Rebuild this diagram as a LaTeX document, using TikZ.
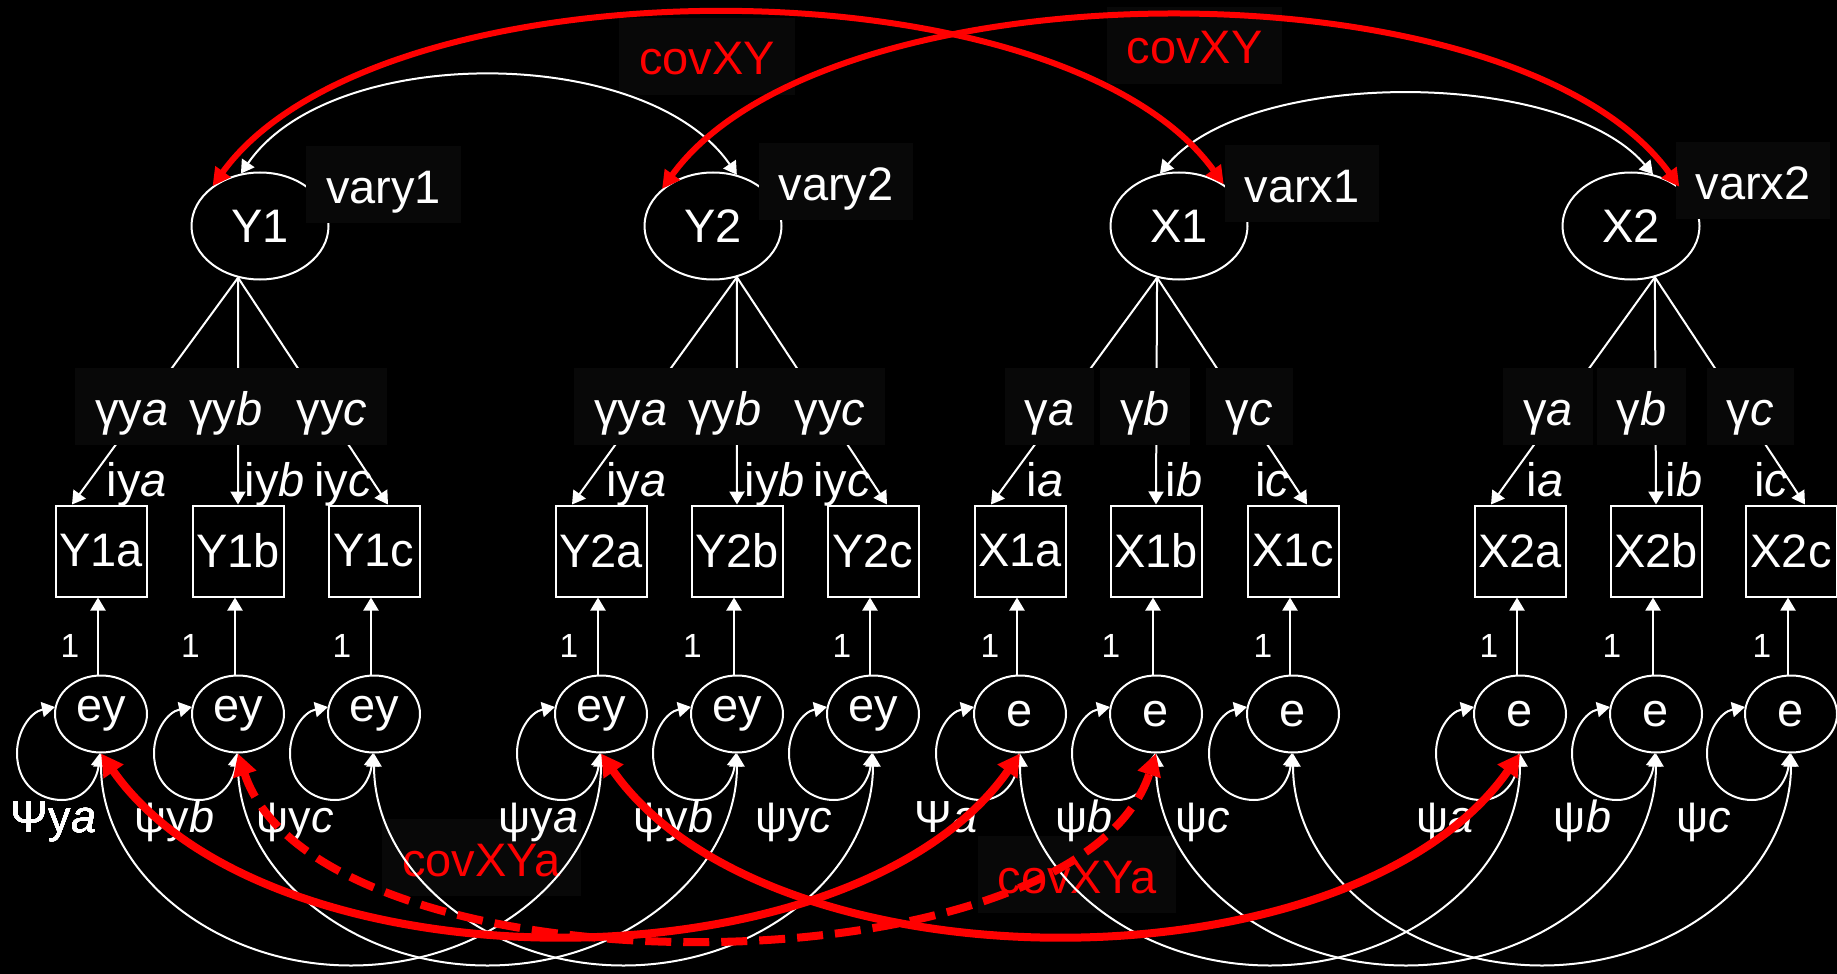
\documentclass[tikz,border=0pt]{standalone}
\usepackage{fontspec}
\setmainfont{Liberation Sans}
\usetikzlibrary{shapes.geometric,arrows.meta,calc}
\definecolor{tagbg}{RGB}{8,8,8}
\definecolor{covred}{RGB}{255,0,0}

% variance loop under a residual ellipse (coordinates relative to its centre)
\newcommand\resloop[1]{%
  \draw[wcov, shift={(#1.center)}] (-1,39) .. controls (-4,66) and (-16,86) .. (-39,86)
    .. controls (-61,86) and (-84,71) .. (-84,39)
    .. controls (-84,18) and (-71,-2) .. (-46,-7);}
% residual covariance: half ellipse below two residuals
\newcommand\botarc[2]{%
  \draw[wcov] (#1.south) .. controls +(0,117) and +(-138,0)
    .. ($(#1.south)!0.5!(#2.south)+(0,212)$)
    .. controls +(138,0) and +(0,117) .. (#2.south);}

\begin{document}
\begin{tikzpicture}[x=0.5pt,y=-0.5pt,
  every node/.style={text=white, font=\fontsize{23.5}{28}\selectfont},
  lat/.style={ellipse, draw=white, line width=1pt, fill=black,
    minimum width=68.5pt, minimum height=53.5pt, inner sep=0pt},
  ind/.style={rectangle, draw=white, line width=1pt, fill=black,
    minimum width=45.5pt, minimum height=45.5pt, inner sep=0pt},
  res/.style={ellipse, draw=white, line width=1pt, fill=black,
    minimum width=46pt, minimum height=38.5pt, inner sep=0pt},
  tag/.style={fill=tagbg, anchor=base, inner xsep=10pt, inner ysep=4pt,
    text height=24.5pt, text depth=6pt},
  redtag/.style={tag, text=covred},
  plain/.style={anchor=base, inner sep=0pt},
  psi/.style={plain, font=\fontsize{22.5}{27}\selectfont},
  one/.style={anchor=base, inner sep=0pt, font=\fontsize{16.75}{20}\selectfont},
  wline/.style={draw=white, line width=1pt},
  warrow/.style={wline, -{Triangle[length=6.5pt,width=7.5pt]}},
  wcov/.style={wline, {Triangle[length=6.5pt,width=7.5pt]}-{Triangle[length=6.5pt,width=7.5pt]}},
  rtop/.style={draw=covred, line width=3pt,
    {Triangle[length=9pt,width=9pt]}-{Triangle[length=9pt,width=9pt]}},
  rbot/.style={draw=covred, line width=4pt,
    {Triangle[length=11pt,width=11.5pt]}-{Triangle[length=11pt,width=11.5pt]}},
  rdash/.style={rbot, dash pattern=on 13pt off 6pt},
]
\fill[black] (0,0) rectangle (1837,974);
\useasboundingbox (0,0) rectangle (1837,974);

% residual covariance labels sit underneath everything else
\node[redtag] (cXYa1) at (481.5,876) {covXYa};
\node[redtag] (cXYa2) at (1077,893) {covXYa};

% latent factors
\node[lat] (Y1) at (260,226) {Y1};
\node[lat] (Y2) at (713,226) {Y2};
\node[lat] (X1) at (1179,226) {X1};
\node[lat] (X2) at (1631,226) {X2};
\coordinate (pY1) at (Y1.247);
\coordinate (pY2) at (Y2.295);
\coordinate (pX1) at (X1.247);
\coordinate (pX2) at (X2.295);

% indicators
\node[ind] (Y1a) at (101,551) {Y1a};
\node[ind] (Y1b) at (238,551) {Y1b};
\node[ind] (Y1c) at (374,551) {Y1c};
\node[ind] (Y2a) at (601,551) {Y2a};
\node[ind] (Y2b) at (737,551) {Y2b};
\node[ind] (Y2c) at (873,551) {Y2c};
\node[ind] (X1a) at (1020,551) {X1a};
\node[ind] (X1b) at (1156,551) {X1b};
\node[ind] (X1c) at (1293,551) {X1c};
\node[ind] (X2a) at (1520,551) {X2a};
\node[ind] (X2b) at (1656,551) {X2b};
\node[ind] (X2c) at (1791,551) {X2c};

% residuals
\node[res] (eY1a) at (101,714) {ey};
\node[res] (eY1b) at (238,714) {ey};
\node[res] (eY1c) at (374,714) {ey};
\node[res] (eY2a) at (601,714) {ey};
\node[res] (eY2b) at (737,714) {ey};
\node[res] (eY2c) at (873,714) {ey};
\node[res] (eX1a) at (1020,714) {e};
\node[res] (eX1b) at (1156,714) {e};
\node[res] (eX1c) at (1293,714) {e};
\node[res] (eX2a) at (1520,714) {e};
\node[res] (eX2b) at (1656,714) {e};
\node[res] (eX2c) at (1791,714) {e};

% loadings
\draw[warrow] (pY1) -- ([xshift=-14.5pt]Y1a.north);
\draw[warrow] (pY1) -- (Y1b.north);
\draw[warrow] (pY1) -- ([xshift=7pt]Y1c.north);
\draw[warrow] (pY2) -- ([xshift=-14.5pt]Y2a.north);
\draw[warrow] (pY2) -- (Y2b.north);
\draw[warrow] (pY2) -- ([xshift=7pt]Y2c.north);
\draw[warrow] (pX1) -- ([xshift=-14.5pt]X1a.north);
\draw[warrow] (pX1) -- (X1b.north);
\draw[warrow] (pX1) -- ([xshift=7pt]X1c.north);
\draw[warrow] (pX2) -- ([xshift=-14.5pt]X2a.north);
\draw[warrow] (pX2) -- (X2b.north);
\draw[warrow] (pX2) -- ([xshift=7pt]X2c.north);

% loading labels
\node[tag] (gY1a) at (132,425) {γy\textit{a}};
\node[tag] (gY1b) at (226,425) {γy\textit{b}};
\node[tag] (gY1c) at (332,425) {γy\textit{c}};
\node[tag] (gY2a) at (631,425) {γy\textit{a}};
\node[tag] (gY2b) at (725,425) {γy\textit{b}};
\node[tag] (gY2c) at (830,425) {γy\textit{c}};
\node[tag] (gX1a) at (1049.5,425) {γ\textit{a}};
\node[tag] (gX1b) at (1145,425) {γ\textit{b}};
\node[tag] (gX1c) at (1249,425) {γ\textit{c}};
\node[tag] (gX2a) at (1548,425) {γ\textit{a}};
\node[tag] (gX2b) at (1641.5,425) {γ\textit{b}};
\node[tag] (gX2c) at (1750,425) {γ\textit{c}};

% intercepts
\node[plain] (iY1a) at (137,496) {iy\textit{a}};
\node[plain] (iY1b) at (275,496) {iy\textit{b}};
\node[plain] (iY1c) at (343,496) {iy\textit{c}};
\node[plain] (iY2a) at (636.5,496) {iy\textit{a}};
\node[plain] (iY2b) at (774.6,496) {iy\textit{b}};
\node[plain] (iY2c) at (842,496) {iy\textit{c}};
\node[plain] (iX1a) at (1045,496) {i\textit{a}};
\node[plain] (iX1b) at (1184,496) {i\textit{b}};
\node[plain] (iX1c) at (1272,496) {i\textit{c}};
\node[plain] (iX2a) at (1545,496) {i\textit{a}};
\node[plain] (iX2b) at (1684,496) {i\textit{b}};
\node[plain] (iX2c) at (1771,496) {i\textit{c}};

% residual paths fixed to 1
\foreach \v in {Y1a,Y1b,Y1c,Y2a,Y2b,Y2c,X1a,X1b,X1c,X2a,X2b,X2c}
  \draw[warrow] ([xshift=-1.5pt]e\v.north) -- ([xshift=-1.5pt]\v.south);
\foreach \v/\x in {Y1a/70,Y1b/190.5,Y1c/342,Y2a/569,Y2b/692.5,Y2c/842,
                   X1a/990,X1b/1111,X1c/1263,X2a/1489,X2b/1612,X2c/1762}
  \node[one] (one\v) at (\x,657) {1};

% residual variances
\foreach \v in {Y1a,Y1b,Y1c,Y2a,Y2b,Y2c,X1a,X1b,X1c,X2a,X2b,X2c}
  \resloop{e\v}
\node[psi] (psY1a) at (53.5,832) {Ψy\textit{a}};
\node[psi] (psY1b) at (174.5,832) {ψy\textit{b}};
\node[psi] (psY1c) at (295,832) {ψy\textit{c}};
\node[psi] (psY2a) at (538.5,832) {ψy\textit{a}};
\node[psi] (psY2b) at (673.5,832) {ψy\textit{b}};
\node[psi] (psY2c) at (793.6,832) {ψy\textit{c}};
\node[psi] (psX1a) at (946,832) {Ψ\textit{a}};
\node[psi] (psX1b) at (1084,832) {ψ\textit{b}};
\node[psi] (psX1c) at (1203,832) {ψ\textit{c}};
\node[psi] (psX2a) at (1445,832) {ψ\textit{a}};
\node[psi] (psX2b) at (1582.5,832) {ψ\textit{b}};
\node[psi] (psX2c) at (1703.5,832) {ψ\textit{c}};

% factor variance labels
\node[tag] (vY1) at (383.5,203) {vary1};
\node[tag] (vY2) at (836,200) {vary2};
\node[tag] (vX1) at (1302,202) {varx1};
\node[tag] (vX2) at (1753,199) {varx2};

% factor covariance labels
\node[redtag] (cXY1) at (707,75) {covXY};
\node[redtag] (cXY2) at (1194.5,64) {covXY};

% factor covariances
\draw[wcov] (Y1.110) .. controls +(90,-131) and +(-90,-131) .. (Y2.65);
\draw[wcov] (X1.110) .. controls +(90,-106) and +(-90,-106) .. (X2.67);
\draw[rtop] (Y1.140) .. controls +(165,-228) and +(-165,-228) .. (X1.43);
\draw[rtop] (Y2.144) .. controls +(165,-228) and +(-165,-228) .. (X2.39);

% residual covariances
\botarc{eY1a}{eY2a}
\botarc{eY1b}{eY2b}
\botarc{eY1c}{eY2c}
\botarc{eX1a}{eX2a}
\botarc{eX1b}{eX2b}
\botarc{eX1c}{eX2c}
\draw[rbot] (eY1a.south) .. controls +(168,240) and +(-168,240) .. (eX1a.south);
\draw[rbot] (eY2a.south) .. controls +(168,240) and +(-168,240) .. (eX2a.south);
\draw[rdash] (eY1b.south) .. controls +(80,245) and +(-80,245) .. (eX1b.south);
\end{tikzpicture}
\end{document}
